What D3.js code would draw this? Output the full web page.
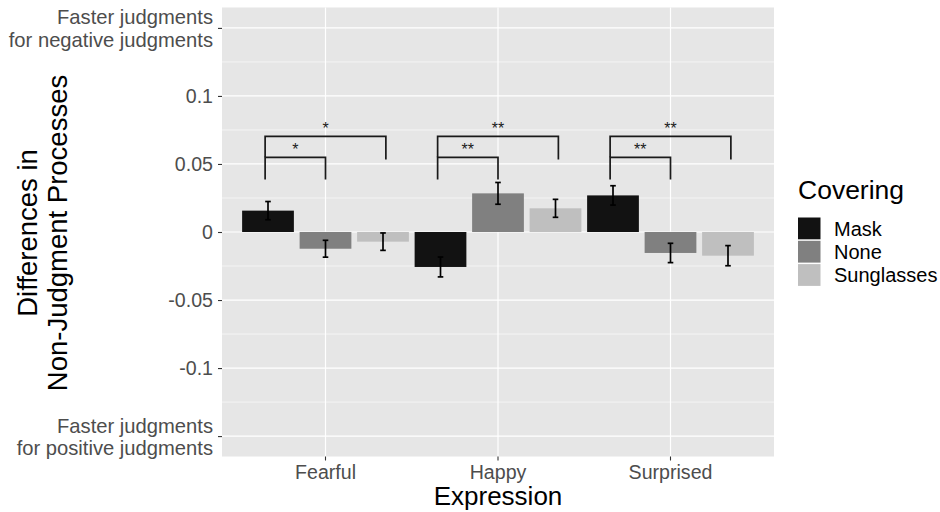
<!DOCTYPE html>
<html><head><meta charset="utf-8">
<script src="https://cdn.jsdelivr.net/npm/d3@7"></script>
<style>
body{margin:0;background:#fff;}
svg{display:block;font-family:"Liberation Sans",Arial,Helvetica,sans-serif;}
</style></head>
<body><svg id="c" width="940" height="512"></svg>
<script>
const expressions = ["Fearful", "Happy", "Surprised"];
const coverings = ["Mask", "None", "Sunglasses"];
const coverColors = ["#121212", "#808080", "#bfbfbf"];
// mean difference per expression (rows) x covering (cols)
const meanValues = [
  [0.0157, -0.0123, -0.0071],
  [-0.0257, 0.0284, 0.0174],
  [0.0269, -0.0154, -0.0174]
];
const seValues = [
  [0.0067, 0.0062, 0.0064],
  [0.0073, 0.0080, 0.0066],
  [0.0071, 0.0071, 0.0074]
];
const yBreaks = [-0.15, -0.1, -0.05, 0, 0.05, 0.1, 0.15];
const yLabels = ["Faster judgments\nfor positive judgments", "-0.1", "-0.05", "0", "0.05", "0.1", "Faster judgments\nfor negative judgments"];
// significance brackets: from Mask to comparison covering
const sigCompare = ["None", "Sunglasses"];
const sigLevels = [0.0549, 0.0703];
const sigTipEnd = [0.0385, 0.0532];
const sigLabels = [["*", "*"], ["**", "**"], ["**", "**"]];

const svg = d3.select("#c");
const L = 222, R = 774, T = 7.5, B = 456.5;

const y = d3.scaleLinear().domain([-0.165, 0.165]).range([B, T]);
const x = d3.scaleBand().domain(expressions).range([L, R]).paddingInner(0).paddingOuter(0.1);
const xUnit = d3.scaleLinear().domain([0.4, expressions.length + 0.6]).range([L, R]);
const xSub = d3.scaleBand().domain(coverings).range([0, x.bandwidth()]).paddingInner(0.1).paddingOuter(0.05);
const color = d3.scaleOrdinal().domain(coverings).range(coverColors);

// panel
svg.append("rect").attr("x", L).attr("y", T).attr("width", R - L).attr("height", B - T).attr("fill", "#e6e6e6");
// minor grid
const minor = d3.range(yBreaks.length - 1).map(i => (yBreaks[i] + yBreaks[i + 1]) / 2);
svg.append("g").selectAll("line").data(minor).join("line")
  .attr("x1", L).attr("x2", R).attr("y1", d => y(d)).attr("y2", d => y(d))
  .attr("stroke", "#fff").attr("stroke-width", 0.6);
svg.append("g").selectAll("line").data(yBreaks).join("line")
  .attr("x1", L).attr("x2", R).attr("y1", d => y(d)).attr("y2", d => y(d))
  .attr("stroke", "#fff").attr("stroke-width", 1.2);
svg.append("g").selectAll("line").data(expressions).join("line")
  .attr("x1", d => x(d) + x.bandwidth() / 2).attr("x2", d => x(d) + x.bandwidth() / 2)
  .attr("y1", T).attr("y2", B).attr("stroke", "#fff").attr("stroke-width", 1.2);

// bars
const flat = [];
expressions.forEach((e, i) => coverings.forEach((c, j) => flat.push({e, c, v: meanValues[i][j], se: seValues[i][j]})));
svg.append("g").selectAll("rect").data(flat).join("rect")
  .attr("x", d => x(d.e) + xSub(d.c))
  .attr("width", xSub.bandwidth())
  .attr("y", d => y(Math.max(0, d.v)))
  .attr("height", d => Math.abs(y(d.v) - y(0)))
  .attr("fill", d => color(d.c));

// error bars
const eb = svg.append("g").attr("stroke", "#000").attr("stroke-width", 1.7).attr("fill", "none");
flat.forEach(d => {
  const cx = x(d.e) + xSub(d.c) + xSub.bandwidth() / 2;
  const hw = 2.8;
  const y1 = y(d.v + d.se), y2 = y(d.v - d.se);
  eb.append("line").attr("x1", cx).attr("x2", cx).attr("y1", y1).attr("y2", y2);
  eb.append("line").attr("x1", cx - hw).attr("x2", cx + hw).attr("y1", y1).attr("y2", y1);
  eb.append("line").attr("x1", cx - hw).attr("x2", cx + hw).attr("y1", y2).attr("y2", y2);
});

// significance brackets
const sg = svg.append("g");
expressions.forEach((e, i) => {
  const center = i + 1;
  sigCompare.forEach((c, k) => {
    const xa = xUnit(center - 0.35);
    const xb = xUnit(center - 0.35 + 0.35 * (k + 1));
    const yl = y(sigLevels[k]);
    const yt = y(sigTipEnd[k]);
    const tipL = k === 0 ? y(sigTipEnd[0]) : y(sigLevels[0]);
    sg.append("path")
      .attr("d", `M${xa},${k === 0 ? yt : tipL}V${yl}H${xb}V${k === 0 ? yt : y(sigTipEnd[1])}`)
      .attr("fill", "none").attr("stroke", "#1a1a1a").attr("stroke-width", 1.7);
    sg.append("text").attr("x", (xa + xb) / 2).attr("y", yl - 2)
      .attr("text-anchor", "middle").attr("font-size", 16).attr("fill", "#1a1a1a")
      .text(sigLabels[i][k]);
  });
});

// y axis
const yAxis = svg.append("g").attr("transform", `translate(${L},0)`)
  .call(d3.axisLeft(y).tickValues(yBreaks).tickSize(4).tickPadding(5).tickFormat((d, i) => yLabels[i]));
yAxis.select(".domain").remove();
yAxis.selectAll(".tick line").attr("stroke", "#333").attr("stroke-width", 1.1);
yAxis.selectAll(".tick text").attr("font-size", 19.6).attr("fill", "#4d4d4d")
  .attr("font-family", "Liberation Sans, Arial, sans-serif")
  .each(function(d, i) {
    const lines = yLabels[i].split("\n");
    const t = d3.select(this);
    if (lines.length > 1) {
      t.text(null).attr("dy", null).attr("font-size", 20.2);
      t.append("tspan").attr("x", -9).attr("y", -4).text(lines[0]);
      t.append("tspan").attr("x", -9).attr("y", 18.5).text(lines[1]);
    } else {
      t.attr("dy", "0.35em").attr("x", -9);
    }
  });

// x axis
const xAxis = svg.append("g").attr("transform", `translate(0,${B})`)
  .call(d3.axisBottom(x).tickSize(4).tickPadding(3));
xAxis.select(".domain").remove();
xAxis.selectAll(".tick line").attr("stroke", "#333").attr("stroke-width", 1.1);
xAxis.selectAll(".tick text").attr("font-size", 19.6).attr("fill", "#4d4d4d")
  .attr("font-family", "Liberation Sans, Arial, sans-serif")
  .attr("dy", null).attr("y", 22.5);

// axis titles
svg.append("text").attr("x", (L + R) / 2).attr("y", 505).attr("text-anchor", "middle")
  .attr("font-size", 26).attr("fill", "#000").text("Expression");
const yt = svg.append("text").attr("transform", `translate(37,${(T + B) / 2 + 1}) rotate(-90)`)
  .attr("text-anchor", "middle").attr("font-size", 27.5).attr("fill", "#000");
yt.append("tspan").attr("x", 0).attr("y", 0).text("Differences in");
yt.append("tspan").attr("x", 0).attr("y", 30).text("Non-Judgment Processes");

// legend
const lg = svg.append("g").attr("transform", "translate(798,0)");
lg.append("text").attr("x", 0).attr("y", 198.5).attr("font-size", 26.5).attr("fill", "#000").text("Covering");
coverings.forEach((c, j) => {
  const ky = 217.5 + j * 23.3;
  lg.append("rect").attr("x", 0).attr("y", ky).attr("width", 22.5).attr("height", 21.8).attr("fill", color(c));
  lg.append("text").attr("x", 36).attr("y", ky + 18).attr("font-size", 20).attr("fill", "#000").text(c);
});
</script></body></html>
